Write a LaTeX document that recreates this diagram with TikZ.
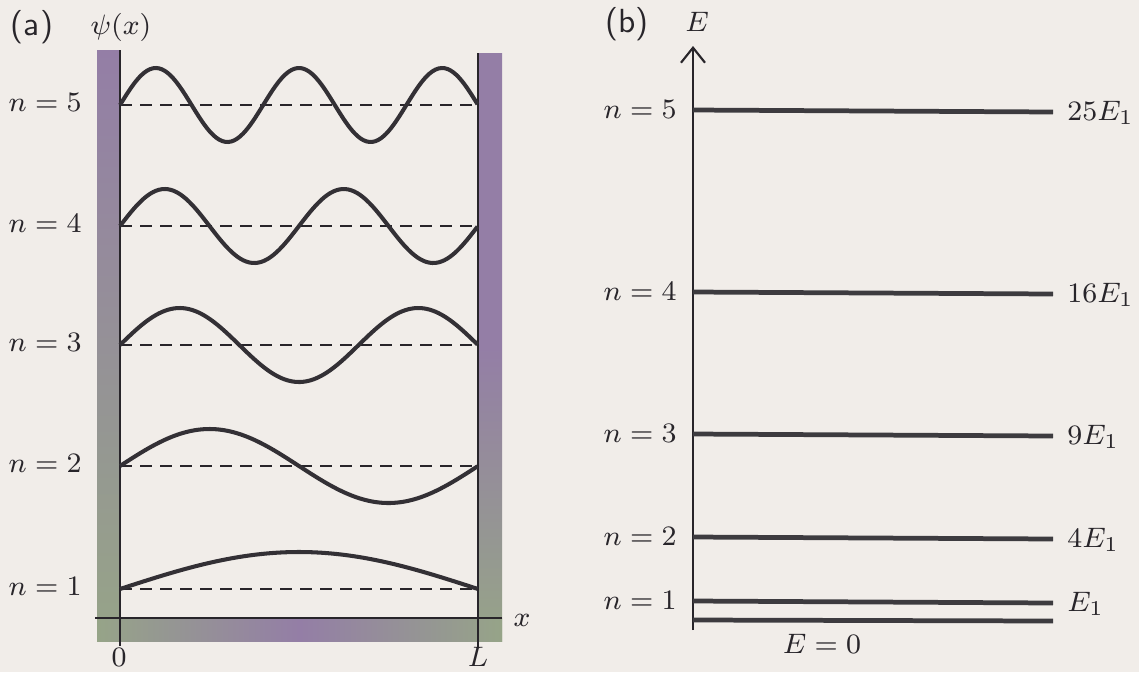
\documentclass[tikz,border=0pt]{standalone}
\usepackage{tikz}
\usetikzlibrary{arrows.meta,positioning}
\definecolor{paper}{RGB}{241,237,233}
\definecolor{wallpurple}{RGB}{148,126,166}
\definecolor{wallgreen}{RGB}{150,164,136}
\definecolor{ink}{RGB}{40,37,42}

\begin{document}
\begin{tikzpicture}[x=0.01cm, y=-0.01cm, >=Stealth,
  every node/.style={font=\fontsize{8.5}{10}\selectfont, text=ink},
  tag/.style={font=\fontsize{9.5}{11}\selectfont\sffamily},
  wave/.style={ink!95, line width=1.15pt},
  zeroline/.style={ink, line width=0.45pt, dash pattern=on 0.12cm off 0.08cm},
  level/.style={ink!90, line width=1.35pt},
  axisline/.style={ink, line width=0.6pt}]
  % Paper and frame
  \fill[paper] (0,0) rectangle (1139,672);
  \useasboundingbox (0,0) rectangle (1139,672);

  % (a) Walls of the box
  \shade[top color=wallpurple, bottom color=wallgreen, middle color=wallgreen!50!wallpurple] (97,50) rectangle (120,641);
  \shade[top color=wallpurple, bottom color=wallgreen, middle color=wallpurple] (478,53) rectangle (502,641);
  \shade[left color=wallgreen, right color=wallgreen, middle color=wallpurple] (97,618) rectangle (502,641);
  \draw[axisline] (120,50) -- (120,646);
  \draw[axisline] (478,53) -- (478,648);
  \draw[axisline] (95,618) -- (502,618);

  \node[tag] (taga) at (32,27) {(a)};
  \node (psi) at (121,27) {$\psi(x)$};
  \node (xlab) at (522,620) {$x$};
  \node[inner sep=1pt] (zero) at (119,657) {$0$};
  \node[inner sep=1pt] (ell) at (478,657) {$L$};

  % wave functions sin(n pi x / L)
  \foreach \n/\yb in {1/589,2/466,3/345,4/226,5/105} {
    \draw[zeroline] (120,\yb) -- (478,\yb);
    \draw[wave] plot[domain=0:1, samples=120, smooth] ({120+358*\x},{\yb-37*sin(\n*180*\x)});
    \node[left] (wn\n) at (94,\yb-3) {$n = \n$};
  }

  % (b) Energy levels
  \node[tag] (tagb) at (627,24) {(b)};
  \coordinate (ebot) at (693,630);
  \coordinate (etop) at (693,46);
  \draw[axisline, -{Straight Barb[length=1.5mm, width=2.4mm]}] (ebot) -- (etop);
  \node (elab) at (697,22) {$E$};

  \foreach \n/\ye/\lab in {1/601/E_1, 2/537/4E_1, 3/434/9E_1, 4/292/16E_1, 5/110/25E_1} {
    \draw[level] (693,\ye) -- (1053,\ye+2);
    \node[left] (en\n) at (689,\ye-1) {$n = \n$};
    \node[right] (ev\n) at (1055,\ye+3) {$\lab$};
  }
  \draw[level] (693,620) -- (1053,621);
  \node (ezero) at (822,644) {$E = 0$};
\end{tikzpicture}
\end{document}
